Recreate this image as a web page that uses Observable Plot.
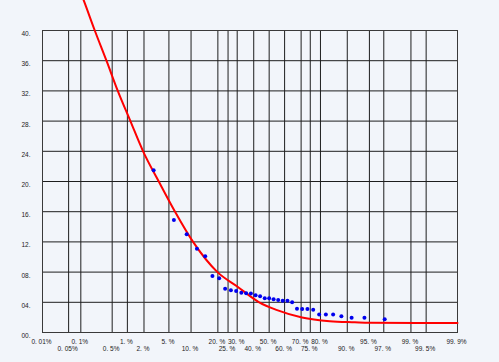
<!DOCTYPE html>
<html>
<head>
<meta charset="utf-8">
<script src="https://cdn.jsdelivr.net/npm/d3@7"></script>
<script src="https://cdn.jsdelivr.net/npm/@observablehq/plot@0.6"></script>
<style>
  html, body { margin: 0; padding: 0; background: #f2f5fa; }
  #chart svg { display: block; }
</style>
</head>
<body>
<div id="chart"></div>
<script>
// ---- data ----
const xTickProbs = [0.01, 0.05, 0.1, 0.5, 1, 2, 5, 10, 20, 25, 30, 40, 50, 60, 70, 75, 80, 90, 95, 97, 99, 99.5, 99.9];
const xLabelsRow1 = [[0.01, "0. 01%"], [0.1, "0. 1%"], [1, "1. %"], [5, "5. %"], [20, "20. %"], [30, "30. %"], [50, "50. %"], [70, "70. %"], [80, "80. %"], [95, "95. %"], [99, "99. %"], [99.9, "99. 9%"]];
const xLabelsRow2 = [[0.05, "0. 05%"], [0.5, "0. 5%"], [2, "2. %"], [10, "10. %"], [25, "25. %"], [40, "40. %"], [60, "60. %"], [75, "75. %"], [90, "90. %"], [97, "97. %"], [99.5, "99. 5%"]];
const yTicks = [0, 4, 8, 12, 16, 20, 24, 28, 32, 36, 40];
const yTickLabels = ["00.", "04.", "08.", "12.", "16.", "20.", "24.", "28.", "32.", "36.", "40."];

// observed points: cumulative probability (%) and value
const pointProbs = [2.9, 5.9, 8.8, 11.8, 14.7, 17.6, 20.6, 23.5, 26.5, 29.4, 32.4, 35.3, 38.2, 41.2, 44.1, 47.1, 50, 52.9, 55.9, 58.8, 61.8, 64.7, 67.6, 70.6, 73.5, 76.5, 79.4, 82.4, 85.3, 88.2, 91.2, 94.1, 97.1];
const pointValues = [21.5, 14.9, 13.0, 11.1, 10.1, 7.5, 7.2, 5.8, 5.6, 5.5, 5.25, 5.2, 5.15, 4.95, 4.8, 4.55, 4.55, 4.4, 4.3, 4.2, 4.2, 4.0, 3.15, 3.1, 3.1, 3.0, 2.4, 2.4, 2.4, 2.15, 1.95, 1.95, 1.75];

// fitted curve
const curveProbs = [0.1, 0.118, 0.211, 0.38, 0.65, 1.14, 1.93, 3.51, 6.13, 10.6, 19.8, 30, 43.5, 54.7, 70.5, 84, 92, 95, 99.9];
const curveValues = [45.0, 43.95, 40, 36, 32, 28, 24, 20, 16, 12, 8, 6.1, 4.0, 3.0, 2.0, 1.5, 1.35, 1.28, 1.25];

// ---- normal probability transform ----
function probit(p) {
  const a = [-3.969683028665376e+01, 2.209460984245205e+02, -2.759285104469687e+02, 1.383577518672690e+02, -3.066479806614716e+01, 2.506628277459239e+00];
  const b = [-5.447609879822406e+01, 1.615858368580409e+02, -1.556989798598866e+02, 6.680131188771972e+01, -1.328068155288572e+01];
  const c = [-7.784894002430293e-03, -3.223964580411365e-01, -2.400758277161838e+00, -2.549732539343734e+00, 4.374664141464968e+00, 2.938163982698783e+00];
  const d = [7.784695709041462e-03, 3.224671290700398e-01, 2.445134137142996e+00, 3.754408661907416e+00];
  const pl = 0.02425, ph = 1 - pl;
  let q, r;
  if (p < pl) {
    q = Math.sqrt(-2 * Math.log(p));
    return (((((c[0]*q+c[1])*q+c[2])*q+c[3])*q+c[4])*q+c[5]) / ((((d[0]*q+d[1])*q+d[2])*q+d[3])*q+1);
  }
  if (p <= ph) {
    q = p - 0.5; r = q * q;
    return (((((a[0]*r+a[1])*r+a[2])*r+a[3])*r+a[4])*r+a[5])*q / (((((b[0]*r+b[1])*r+b[2])*r+b[3])*r+b[4])*r+1);
  }
  q = Math.sqrt(-2 * Math.log(1 - p));
  return -(((((c[0]*q+c[1])*q+c[2])*q+c[3])*q+c[4])*q+c[5]) / ((((d[0]*q+d[1])*q+d[2])*q+d[3])*q+1);
}
const px = pct => probit(pct / 100);

const points = pointProbs.map((p, i) => ({p, v: pointValues[i]}));
const curve = curveProbs.map((p, i) => ({p, v: curveValues[i]}));
const row1 = xLabelsRow1.map(([p, t]) => ({p, t}));
const row2 = xLabelsRow2.map(([p, t]) => ({p, t}));
const yLab = yTicks.map((v, i) => ({v, t: yTickLabels[i]}));

const font = "Liberation Sans, Arial, sans-serif";

const chart = Plot.plot({
  width: 499,
  height: 362,
  marginLeft: 42,
  marginRight: 42,
  marginTop: 30,
  marginBottom: 30,
  style: {background: "#f2f5fa", fontFamily: font, overflow: "hidden"},
  x: {type: "linear", domain: [px(0.01), px(99.9)], axis: null},
  y: {domain: [0, 40], axis: null},
  marks: [
    Plot.ruleX(xTickProbs, {x: d => px(d), stroke: "#1e1e1e", strokeWidth: 1}),
    Plot.ruleY(yTicks, {y: d => d, stroke: "#1e1e1e", strokeWidth: 1}),
    Plot.frame({stroke: "#3a3a3a", strokeWidth: 1}),
    Plot.line(curve, {x: d => px(d.p), y: "v", stroke: "#ff0000", strokeWidth: 2, curve: "monotone-x", clip: false}),
    Plot.dot(points, {x: d => px(d.p), y: "v", r: 2, fill: "#0000ee", stroke: "none"}),
    Plot.text(yLab, {y: "v", text: "t", frameAnchor: "left", dx: -12, dy: 3.5, textAnchor: "end", fontSize: 6.5, fill: "#222"}),
    Plot.text(row1, {x: d => px(d.p), text: "t", frameAnchor: "bottom", dy: 11, dx: -1, fontSize: 6.5, fill: "#222"}),
    Plot.text(row2, {x: d => px(d.p), text: "t", frameAnchor: "bottom", dy: 18.5, dx: -1, fontSize: 6.5, fill: "#222"})
  ]
});
document.getElementById("chart").appendChild(chart);
</script>
</body>
</html>
